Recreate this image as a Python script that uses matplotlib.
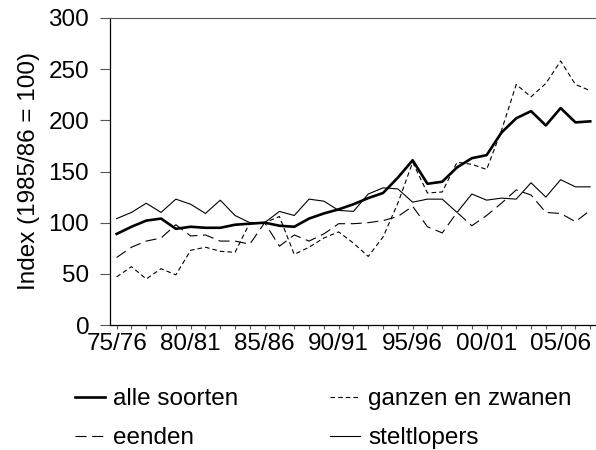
import matplotlib
matplotlib.use('Agg')
import matplotlib.pyplot as plt

# seizoenen 1975/76 t/m 2007/08
seizoenen = ['%02d/%02d' % (y % 100, (y + 1) % 100) for y in range(1975, 2008)]
tick_labels = ['75/76', '80/81', '85/86', '90/91', '95/96', '00/01', '05/06']

alle_soorten = [89, 96, 102, 104, 94, 96, 95, 95, 98, 99, 100, 97, 96, 104, 109, 113,
                118, 124, 129, 144, 161, 138, 140, 154, 163, 166, 188, 202, 209, 195,
                212, 198, 199]
ganzen_zwanen = [47, 57, 45, 55, 49, 73, 76, 72, 71, 100, 100, 106, 69, 76, 85, 91,
                 80, 67, 86, 119, 159, 129, 130, 159, 157, 152, 190, 235, 223, 236,
                 258, 235, 229]
eenden = [66, 76, 82, 85, 98, 87, 88, 82, 82, 79, 100, 77, 88, 82, 89, 99,
          99, 100, 102, 106, 116, 96, 90, 110, 97, 107, 119, 132, 127, 110,
          109, 101, 112]
steltlopers = [104, 110, 119, 110, 123, 118, 109, 122, 107, 100, 100, 111, 107, 123, 121, 112,
               111, 128, 134, 133, 120, 123, 123, 110, 128, 122, 124, 123, 139, 125,
               142, 135, 135]

plt.rcParams['font.family'] = ['Liberation Sans', 'DejaVu Sans']
plt.rcParams['font.size'] = 17.5
plt.rcParams['lines.scale_dashes'] = False

fig = plt.figure(figsize=(5.96, 4.5), dpi=100)
ax = fig.add_axes([110 / 596, 125 / 450, 486 / 596, 307 / 450])

x = list(range(len(seizoenen)))
ax.plot(x, ganzen_zwanen, color='black', lw=0.8, linestyle=(0, (3.3, 2.2)), label='ganzen en zwanen')
ax.plot(x, eenden, color='black', lw=0.8, linestyle=(0, (8, 4)), label='eenden')
ax.plot(x, steltlopers, color='black', lw=0.8, label='steltlopers')
ax.plot(x, alle_soorten, color='black', lw=1.9, label='alle soorten')

ax.set_xlim(-0.45, 32.39)
ax.set_ylim(0, 300)
ax.set_yticks(range(0, 301, 50))
ax.set_xticks(x, minor=True)
ax.set_xticks([seizoenen.index(t) for t in tick_labels])
ax.set_xticklabels(tick_labels)
ax.tick_params(axis='y', length=7, width=0.8, color='#555555', pad=8)
ax.tick_params(axis='x', which='both', length=3, width=0.8, color='#555555', pad=3)
ax.spines['right'].set_visible(False)
ax.spines['top'].set_color('#555555')
ax.spines['left'].set_linewidth(0.9)
ax.spines['bottom'].set_linewidth(0.9)
ax.set_ylabel('Index (1985/86 = 100)', labelpad=6)

h, l = ax.get_legend_handles_labels()
volgorde = [3, 1, 0, 2]  # alle, eenden | ganzen, stelt
fig.legend([h[i] for i in volgorde], [l[i] for i in volgorde], ncol=2, frameon=False,
           loc='upper left', bbox_to_anchor=(75 / 596, 1 - 388 / 450), borderpad=0,
           borderaxespad=0, handlelength=1.22, handletextpad=0.33, columnspacing=3.8,
           labelspacing=0.7)

fig.savefig('out.png', dpi=100)
